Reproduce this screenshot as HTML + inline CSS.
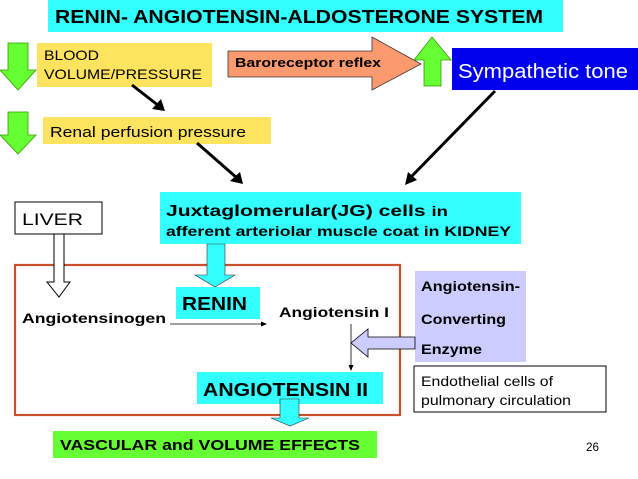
<!DOCTYPE html>
<html><head><style>body{margin:0;background:#fff}svg{display:block;font-family:"Liberation Sans",Arial,sans-serif}</style></head><body>
<svg width="638" height="479" viewBox="0 0 638 479">
<rect x="48" y="0" width="515" height="32" fill="#33ffff"/>
<text x="55" y="23" font-size="18" font-weight="bold" textLength="488" lengthAdjust="spacingAndGlyphs">RENIN- ANGIOTENSIN-ALDOSTERONE SYSTEM</text>
<polygon points="8,43 28,43 28,70 36,70 18,90 0,70 8,70" fill="#66ff33" stroke="#339900" stroke-width="0.8"/>
<polygon points="8,112 28,112 28,135 36,135 18,154 0,135 8,135" fill="#66ff33" stroke="#339900" stroke-width="0.8"/>
<rect x="37" y="43" width="175" height="44" fill="#fde35e"/>
<text x="44" y="60" font-size="14" textLength="55" lengthAdjust="spacingAndGlyphs">BLOOD</text>
<text x="44" y="79" font-size="14" textLength="158" lengthAdjust="spacingAndGlyphs">VOLUME/PRESSURE</text>
<rect x="43" y="117" width="228" height="27" fill="#fde35e"/>
<text x="50" y="137" font-size="15" textLength="196" lengthAdjust="spacingAndGlyphs">Renal perfusion pressure</text>
<polygon points="228,51 372,51 372,37 421,64 372,90 372,77 228,77" fill="#fa9a6e" stroke="#333" stroke-width="0.8"/>
<text x="235" y="67" font-size="13" font-weight="bold" textLength="146" lengthAdjust="spacingAndGlyphs">Baroreceptor reflex</text>
<polygon points="424,86 441,86 441,60 451,60 432,37 414,60 424,60" fill="#66ff33" stroke="#339900" stroke-width="0.8"/>
<rect x="452" y="48" width="186" height="42" fill="#0000ee"/>
<text x="458" y="78" font-size="20" fill="#fff" textLength="170" lengthAdjust="spacingAndGlyphs">Sympathetic  tone</text>
<g stroke="#000" stroke-width="3"><line x1="132" y1="85" x2="159" y2="106"/><line x1="197" y1="143" x2="237" y2="178"/><line x1="495" y1="91" x2="410" y2="178"/></g>
<polygon points="165,111 152,109 161,99" fill="#000"/>
<polygon points="243,184 230,181 240,172" fill="#000"/>
<polygon points="405,185 408,172 417,180" fill="#000"/>
<rect x="160" y="192" width="361" height="52" fill="#33ffff"/>
<text x="166" y="216" font-size="16" font-weight="bold" textLength="282" lengthAdjust="spacingAndGlyphs">Juxtaglomerular(JG) cells <tspan font-size="14">in</tspan></text>
<text x="166" y="236" font-size="14" font-weight="bold" textLength="345" lengthAdjust="spacingAndGlyphs">afferent arteriolar muscle coat in KIDNEY</text>
<rect x="15" y="202" width="87" height="32" fill="#fff" stroke="#000" stroke-width="1"/>
<text x="22" y="225" font-size="17" textLength="61" lengthAdjust="spacingAndGlyphs">LIVER</text>
<rect x="15" y="265" width="385" height="150" fill="none" stroke="#c8502a" stroke-width="2.2"/>
<polygon points="54,234 64,234 64,282 70,282 59,297 47,282 54,282" fill="#fff" stroke="#000" stroke-width="1"/>
<polygon points="207,244 225,244 225,275 235,275 215,287 195,275 207,275" fill="#33ffff" stroke="#333" stroke-width="0.6"/>
<rect x="176" y="287" width="84" height="32" fill="#33ffff"/>
<text x="182" y="310" font-size="18" font-weight="bold" textLength="65" lengthAdjust="spacingAndGlyphs">RENIN</text>
<text x="22" y="323" font-size="14" font-weight="bold" textLength="144" lengthAdjust="spacingAndGlyphs">Angiotensinogen</text>
<line x1="170" y1="324" x2="263" y2="324" stroke="#000" stroke-width="0.8"/>
<polygon points="267,324 261,321.5 261,326.5" fill="#000"/>
<text x="279" y="317" font-size="14" font-weight="bold" textLength="110" lengthAdjust="spacingAndGlyphs">Angiotensin I</text>
<line x1="351" y1="324" x2="351" y2="367" stroke="#000" stroke-width="0.8"/>
<polygon points="351,371 348.5,365 353.5,365" fill="#000"/>
<rect x="415" y="271" width="111" height="91" fill="#ccccff"/>
<text x="421" y="291" font-size="14" font-weight="bold" textLength="99" lengthAdjust="spacingAndGlyphs">Angiotensin-</text>
<text x="421" y="324" font-size="14" font-weight="bold" textLength="85" lengthAdjust="spacingAndGlyphs">Converting</text>
<text x="421" y="354" font-size="14" font-weight="bold" textLength="61" lengthAdjust="spacingAndGlyphs">Enzyme</text>
<polygon points="415,337 368,337 368,329 351,343 368,357 368,349 415,349" fill="#ccccff" stroke="#000" stroke-width="0.8"/>
<rect x="414" y="366" width="192" height="46" fill="#fff" stroke="#000" stroke-width="1"/>
<text x="421" y="386" font-size="14" textLength="132" lengthAdjust="spacingAndGlyphs">Endothelial cells of</text>
<text x="421" y="405" font-size="14" textLength="150" lengthAdjust="spacingAndGlyphs">pulmonary circulation</text>
<rect x="197" y="372" width="186" height="32" fill="#33ffff"/>
<text x="203" y="396" font-size="18" font-weight="bold" textLength="165" lengthAdjust="spacingAndGlyphs">ANGIOTENSIN II</text>
<polygon points="280,399 299,399 299,418 309,418 290,426 271,418 280,418" fill="#33ffff" stroke="#333" stroke-width="0.6"/>
<rect x="53" y="431" width="324" height="27" fill="#66ff33"/>
<text x="60" y="450" font-size="15" font-weight="bold" textLength="300" lengthAdjust="spacingAndGlyphs">VASCULAR and VOLUME EFFECTS</text>
<text x="586" y="451" font-size="12" textLength="13" lengthAdjust="spacingAndGlyphs">26</text>
</svg>
</body></html>
